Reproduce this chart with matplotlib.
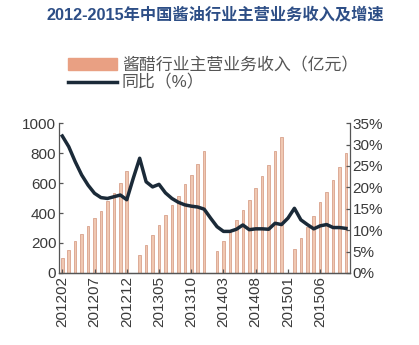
import matplotlib.pyplot as plt
import numpy as np

plt.rcParams['font.family'] = ['Liberation Sans', 'Noto Sans CJK SC', 'DejaVu Sans']

# data (January has no revenue bar)
years = [2012, 2013, 2014, 2015]
months = [f"{y}{m:02d}" for y in years for m in range(1, 13)]
months = months[1:46]  # 201202 .. 201510

revenue = [100, 155, 211, 260, 311, 367, 415, 482, 533, 600, 678,
           None,
           122, 189, 251, 318, 389, 455, 511, 593, 655, 727, 815,
           None,
           144, 215, 278, 355, 422, 489, 566, 644, 722, 815, 905,
           None,
           160, 233, 307, 380, 473, 540, 620, 707, 800]

growth = [32.0, 29.5, 26.0, 22.9, 20.5, 18.6, 17.6, 17.4, 17.8, 18.2, 17.1,
          22.1,
          26.8, 21.3, 20.1, 20.7, 18.7, 17.4, 16.5, 15.9, 15.6, 15.4, 14.9,
          12.8,
          10.8, 9.7, 9.7, 10.2, 11.2, 10.1, 10.3, 10.3, 10.2, 11.6, 11.3,
          12.8,
          15.1, 12.4, 11.3, 10.3, 11.0, 11.3, 10.6, 10.6, 10.4]

title = "2012-2015年中国酱油行业主营业务收入及增速"
bar_label = "酱醋行业主营业务收入（亿元）"
line_label = "同比（%）"

x = np.arange(len(months))
rev = np.array([np.nan if v is None else v for v in revenue], dtype=float)

fig = plt.figure(figsize=(4.19, 3.45), dpi=100)
ax = fig.add_axes([0.141, 0.209, 0.694, 0.434])
ax2 = ax.twinx()

ax.bar(x, rev, width=0.4, color='#F0C8B2', edgecolor='#D8A28C', linewidth=0.6)
line, = ax2.plot(x, growth, color='#1B2A38', linewidth=2.5)

ax.set_xlim(-0.5, 44.6)
ax.set_ylim(0, 1000)
ax2.set_ylim(0, 35)

ax.set_yticks(range(0, 1001, 200))
ax2.set_yticks(range(0, 36, 5))
ax2.set_yticklabels([f"{v}%" for v in range(0, 36, 5)])
ax.set_xticks(x[::5])
ax.set_xticklabels(months[::5], rotation=90)

for a in (ax, ax2):
    a.spines['top'].set_visible(False)
    for s in a.spines.values():
        s.set_color('#555555')
        s.set_linewidth(0.9)
    a.tick_params(direction='in', length=3, width=0.9, color='#555555',
                  labelsize=11, labelcolor='#3A3A3A', pad=2)
ax.spines['right'].set_visible(False)
ax2.spines['left'].set_visible(False)

fig.text(0.515, 0.958, title, ha='center', va='center', fontsize=11.7,
         fontweight='bold', color='#2D4E86')

patch = plt.Rectangle((0, 0), 1, 1, color='#E9A083')
ax.legend([patch, line], [bar_label, line_label], loc='upper left',
          bbox_to_anchor=(0.145, 0.855), bbox_transform=fig.transFigure,
          frameon=False, fontsize=12.2, labelcolor='#555555',
          handlelength=2.9, handleheight=0.65, handletextpad=0.3,
          labelspacing=0.1, borderaxespad=0)

fig.savefig("out.png", dpi=100)
